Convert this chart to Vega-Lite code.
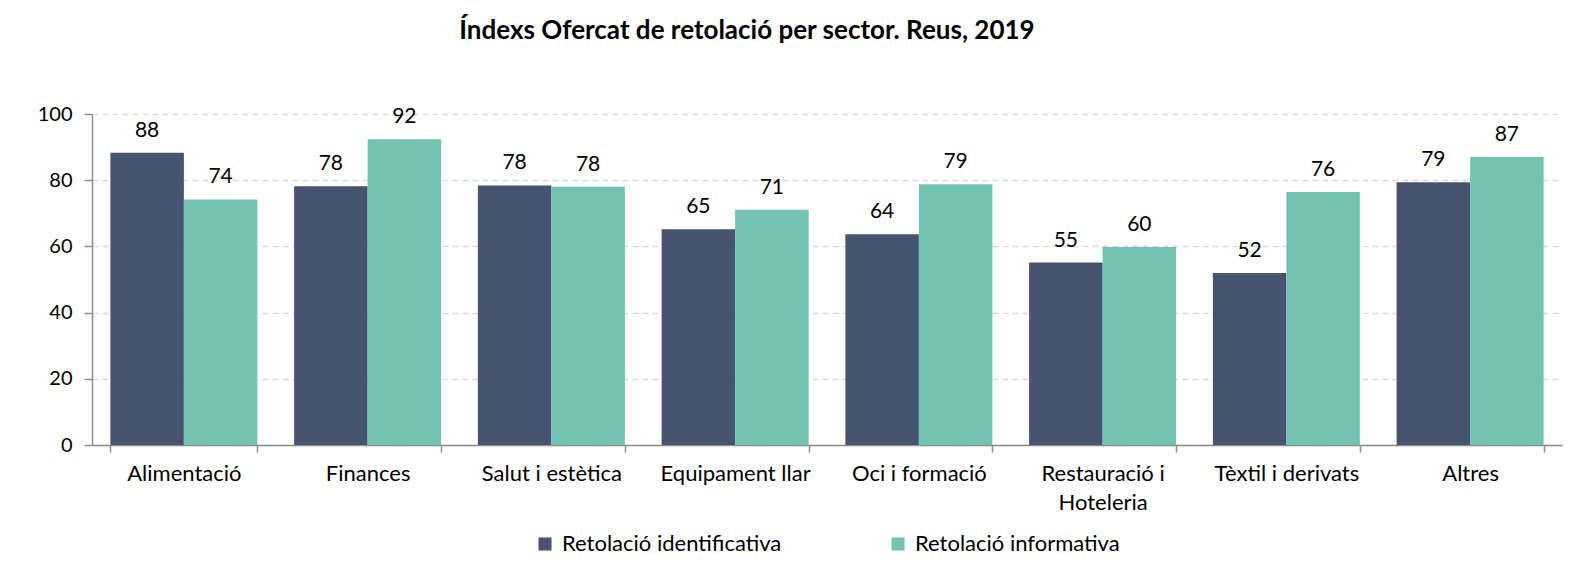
{
  "$schema": "https://vega.github.io/schema/vega-lite/v6.json",
  "width": 1470,
  "height": 331,
  "autosize": {"type": "pad"},
  "padding": {"left": 37, "top": 18, "right": 28, "bottom": 0},
  "background": "white",
  "config": {"view": {"stroke": null}, "font": "Lato", "legend": {"layout": {"bottom": {"anchor": "middle"}}}},
  "title": {"text": "Índexs Ofercat de retolació per sector. Reus, 2019", "font": "Lato", "fontSize": 26, "fontWeight": "bold", "color": "#000000", "dx": -80, "offset": 60},
  "data": {"values": [
    {"sector": "Alimentació", "series": "Retolació identificativa", "value": 88.3},
    {"sector": "Alimentació", "series": "Retolació informativa", "value": 74.2},
    {"sector": "Finances", "series": "Retolació identificativa", "value": 78.2},
    {"sector": "Finances", "series": "Retolació informativa", "value": 92.4},
    {"sector": "Salut i estètica", "series": "Retolació identificativa", "value": 78.4},
    {"sector": "Salut i estètica", "series": "Retolació informativa", "value": 78.0},
    {"sector": "Equipament llar", "series": "Retolació identificativa", "value": 65.2},
    {"sector": "Equipament llar", "series": "Retolació informativa", "value": 71.1},
    {"sector": "Oci i formació", "series": "Retolació identificativa", "value": 63.7},
    {"sector": "Oci i formació", "series": "Retolació informativa", "value": 78.8},
    {"sector": "Restauració i Hoteleria", "series": "Retolació identificativa", "value": 55.1},
    {"sector": "Restauració i Hoteleria", "series": "Retolació informativa", "value": 59.8},
    {"sector": "Tèxtil i derivats", "series": "Retolació identificativa", "value": 52.0},
    {"sector": "Tèxtil i derivats", "series": "Retolació informativa", "value": 76.4},
    {"sector": "Altres", "series": "Retolació identificativa", "value": 79.4},
    {"sector": "Altres", "series": "Retolació informativa", "value": 87.0}
  ]},
  "encoding": {
    "x": {"field": "sector", "type": "nominal", "sort": null, "title": null,
      "scale": {"paddingInner": 0.2, "paddingOuter": 0.1},
      "axis": {"labelAngle": 0, "labelFontSize": 22, "labelColor": "#000000", "labelFont": "Lato", "tickBand": "extent", "tickSize": 7, "tickColor": "#8c8c8c", "domainColor": "#8c8c8c", "domainWidth": 1.5, "tickWidth": 1.5, "labelPadding": 11, "labelLineHeight": 29, "labelLimit": 0,
        "labelExpr": "datum.value == 'Restauració i Hoteleria' ? ['Restauració i', 'Hoteleria'] : datum.value"}},
    "xOffset": {"field": "series", "type": "nominal", "sort": null},
    "y": {"field": "value", "type": "quantitative", "title": null,
      "scale": {"domain": [0, 100]},
      "axis": {"values": [0, 20, 40, 60, 80, 100], "labelFontSize": 20, "labelColor": "#000000", "labelFont": "Lato", "gridDash": [6, 4], "gridColor": "#d9d9d9", "gridWidth": 1.5, "domainColor": "#8c8c8c", "domainWidth": 1.5, "tickColor": "#8c8c8c", "tickWidth": 1.5, "tickSize": 8, "labelPadding": 12}}
  },
  "layer": [
    {"mark": {"type": "bar"},
     "encoding": {"color": {"field": "series", "type": "nominal", "sort": null,
        "scale": {"range": ["#46546f", "#72c3b4"]},
        "legend": {"orient": "bottom", "direction": "horizontal", "title": null, "symbolType": "square", "symbolSize": 170, "symbolStrokeWidth": 0, "labelFontSize": 22, "labelColor": "#000000", "labelFont": "Lato", "labelLimit": 0, "columnPadding": 105, "labelOffset": 6, "offset": 20}}}},
    {"mark": {"type": "text", "baseline": "bottom", "dy": -12, "fontSize": 21, "font": "Lato", "color": "#000000"},
     "encoding": {"text": {"field": "value", "type": "quantitative", "format": ".0f"}}}
  ]
}
